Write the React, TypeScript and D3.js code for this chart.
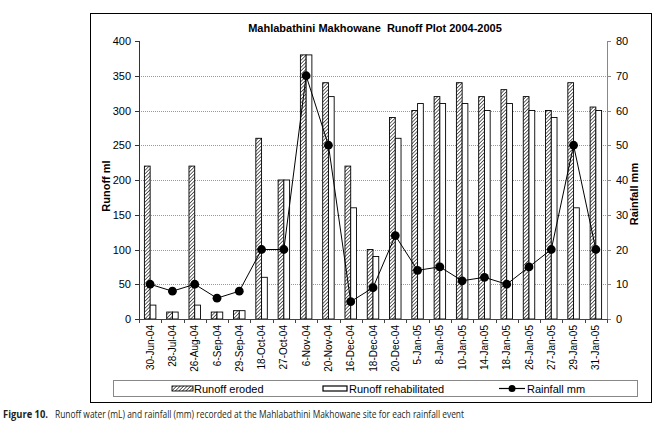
import { useRef, useEffect } from "react";
import * as d3 from "d3";

const dates = [
  "30-Jun-04", "28-Jul-04", "26-Aug-04", "6-Sep-04", "29-Sep-04", "18-Oct-04",
  "27-Oct-04", "6-Nov-04", "20-Nov-04", "16-Dec-04", "18-Dec-04", "20-Dec-04",
  "5-Jan-05", "8-Jan-05", "10-Jan-05", "14-Jan-05", "18-Jan-05", "26-Jan-05",
  "27-Jan-05", "29-Jan-05", "31-Jan-05",
];
const eroded = [220, 10, 220, 10, 12, 260, 200, 380, 340, 220, 100, 290, 300, 320, 340, 320, 330, 320, 300, 340, 305];
const rehabilitated = [20, 10, 20, 10, 12, 60, 200, 380, 320, 160, 90, 260, 310, 310, 310, 300, 310, 300, 290, 160, 300];
const rainfall = [10, 8, 10, 6, 8, 20, 20, 70, 50, 5, 9, 24, 14, 15, 11, 12, 10, 15, 20, 50, 20];
const leftTicks = [0, 50, 100, 150, 200, 250, 300, 350, 400];
const rightTicks = [0, 10, 20, 30, 40, 50, 60, 70, 80];

const font = "Arial, 'Liberation Sans', sans-serif";

export default function App() {
  const svgRef = useRef<SVGSVGElement>(null);

  useEffect(() => {
    const svg = d3.select(svgRef.current);
    svg.selectAll("*").remove();

    const left = 139, right = 607, top = 41, bottom = 319;

    const x = d3.scaleBand().domain(dates).range([left, right]);
    const x1 = d3
      .scaleBand()
      .domain(["eroded", "rehab"])
      .range([x.bandwidth() * 0.22, x.bandwidth() * 0.78]);
    const yL = d3.scaleLinear().domain([0, 400]).range([bottom, top]);
    const yR = d3.scaleLinear().domain([0, 80]).range([bottom, top]);

    const defs = svg.append("defs");
    const pat = defs
      .append("pattern")
      .attr("id", "hatch")
      .attr("patternUnits", "userSpaceOnUse")
      .attr("width", 2.5)
      .attr("height", 2.5)
      .attr("patternTransform", "rotate(45)");
    pat.append("rect").attr("width", 2.5).attr("height", 2.5).attr("fill", "#fff");
    pat
      .append("line")
      .attr("x1", 0).attr("y1", 0).attr("x2", 0).attr("y2", 2.5)
      .attr("stroke", "#333").attr("stroke-width", 1.5);

    // outer frame
    svg.append("rect")
      .attr("x", 90.5).attr("y", 13.5).attr("width", 561).attr("height", 389)
      .attr("fill", "#fff").attr("stroke", "#000");

    // title
    svg.append("text")
      .attr("x", 375).attr("y", 32).attr("text-anchor", "middle")
      .attr("font-family", font).attr("font-size", 11).attr("font-weight", "bold")
      .attr("xml:space", "preserve")
      .text("Mahlabathini Makhowane  Runoff Plot 2004-2005");

    // gridlines
    svg.append("g")
      .selectAll("line")
      .data(leftTicks.filter((t) => t > 0 && t < 400))
      .join("line")
      .attr("x1", left).attr("x2", right)
      .attr("y1", (d) => Math.round(yL(d)) + 0.5).attr("y2", (d) => Math.round(yL(d)) + 0.5)
      .attr("stroke", "#999").attr("stroke-dasharray", "1,1");

    // left axis
    const gl = svg.append("g").attr("font-family", font).attr("font-size", 11);
    gl.append("line")
      .attr("x1", left + 0.5).attr("x2", left + 0.5).attr("y1", top).attr("y2", bottom)
      .attr("stroke", "#333");
    gl.selectAll("line.t").data(leftTicks).join("line").attr("class", "t")
      .attr("x1", left - 4).attr("x2", left)
      .attr("y1", (d) => Math.round(yL(d)) + 0.5).attr("y2", (d) => Math.round(yL(d)) + 0.5)
      .attr("stroke", "#333");
    gl.selectAll("text").data(leftTicks).join("text")
      .attr("x", left - 8).attr("y", (d) => yL(d) + 4).attr("text-anchor", "end")
      .text((d) => d);

    // right axis
    const gr = svg.append("g").attr("font-family", font).attr("font-size", 11);
    gr.append("line")
      .attr("x1", right + 0.5).attr("x2", right + 0.5).attr("y1", top).attr("y2", bottom)
      .attr("stroke", "#888");
    gr.selectAll("line.t").data(rightTicks).join("line").attr("class", "t")
      .attr("x1", right).attr("x2", right + 4)
      .attr("y1", (d) => Math.round(yR(d)) + 0.5).attr("y2", (d) => Math.round(yR(d)) + 0.5)
      .attr("stroke", "#888");
    gr.selectAll("text").data(rightTicks).join("text")
      .attr("x", right + 9).attr("y", (d) => yR(d) + 4)
      .text((d) => d);

    // axis titles
    svg.append("text")
      .attr("transform", `translate(110,${(top + bottom) / 2 + 6}) rotate(-90)`)
      .attr("text-anchor", "middle").attr("font-family", font)
      .attr("font-size", 11).attr("font-weight", "bold").text("Runoff ml");
    svg.append("text")
      .attr("transform", `translate(638,${(top + bottom) / 2 + 14}) rotate(-90)`)
      .attr("text-anchor", "middle").attr("font-family", font)
      .attr("font-size", 11).attr("font-weight", "bold").text("Rainfall mm");

    // bars
    const bars = svg.append("g");
    bars.selectAll("rect.e").data(eroded).join("rect").attr("class", "e")
      .attr("x", (d, i) => x(dates[i])! + x1("eroded")! + 0.5)
      .attr("width", x1.bandwidth() - 0.5)
      .attr("y", (d) => yL(d)).attr("height", (d) => bottom - yL(d))
      .attr("fill", "url(#hatch)").attr("stroke", "#000").attr("stroke-width", 0.9);
    bars.selectAll("rect.r").data(rehabilitated).join("rect").attr("class", "r")
      .attr("x", (d, i) => x(dates[i])! + x1("rehab")!)
      .attr("width", x1.bandwidth() - 0.5)
      .attr("y", (d) => yL(d)).attr("height", (d) => bottom - yL(d))
      .attr("fill", "#fff").attr("stroke", "#000").attr("stroke-width", 0.9);

    // x axis
    const gx = svg.append("g").attr("font-family", font).attr("font-size", 10);
    gx.append("line")
      .attr("x1", left).attr("x2", right + 1)
      .attr("y1", bottom + 0.5).attr("y2", bottom + 0.5).attr("stroke", "#444");
    gx.selectAll("line.t").data([...dates.map((d) => x(d)!), right]).join("line").attr("class", "t")
      .attr("x1", (d) => Math.round(d) + 0.5).attr("x2", (d) => Math.round(d) + 0.5)
      .attr("y1", bottom).attr("y2", bottom + 4).attr("stroke", "#444");
    gx.selectAll("text").data(dates).join("text")
      .attr("transform", (d) => `translate(${x(d)! + x.bandwidth() / 2 + 3.5},${bottom + 6}) rotate(-90)`)
      .attr("text-anchor", "end").text((d) => d);

    // rainfall line
    const line = d3.line<number>()
      .x((d, i) => x(dates[i])! + x.bandwidth() / 2)
      .y((d) => yR(d));
    svg.append("path").datum(rainfall).attr("d", line)
      .attr("fill", "none").attr("stroke", "#000").attr("stroke-width", 1);
    svg.append("g").selectAll("circle").data(rainfall).join("circle")
      .attr("cx", (d, i) => x(dates[i])! + x.bandwidth() / 2)
      .attr("cy", (d) => yR(d)).attr("r", 4.4).attr("fill", "#000");

    // legend
    const lg = svg.append("g").attr("font-family", font).attr("font-size", 11);
    lg.append("rect")
      .attr("x", 113.5).attr("y", 380.5).attr("width", 524).attr("height", 16)
      .attr("fill", "#fff").attr("stroke", "#888");
    lg.append("rect").attr("x", 172).attr("y", 386).attr("width", 21).attr("height", 5)
      .attr("fill", "url(#hatch)").attr("stroke", "#000").attr("stroke-width", 0.9);
    lg.append("text").attr("x", 194).attr("y", 392.5).text("Runoff eroded");
    lg.append("rect").attr("x", 323).attr("y", 386).attr("width", 24).attr("height", 5)
      .attr("fill", "#fff").attr("stroke", "#000").attr("stroke-width", 1.2);
    lg.append("text").attr("x", 349).attr("y", 392.5).text("Runoff rehabilitated");
    lg.append("line").attr("x1", 499).attr("x2", 525).attr("y1", 388.5).attr("y2", 388.5)
      .attr("stroke", "#000").attr("stroke-width", 1.2);
    lg.append("circle").attr("cx", 512).attr("cy", 388.5).attr("r", 3.5).attr("fill", "#000");
    lg.append("text").attr("x", 527).attr("y", 392.5).text("Rainfall mm");

    // caption
    const capFont = "'Open Sans', 'Noto Sans', sans-serif";
    svg.append("text")
      .attr("x", 3).attr("y", 418)
      .attr("font-family", capFont).attr("font-size", 10.5).attr("font-weight", "bold")
      .attr("fill", "#231f20")
      .attr("textLength", 45).attr("lengthAdjust", "spacingAndGlyphs")
      .text("Figure 10.");
    svg.append("text")
      .attr("x", 55).attr("y", 418)
      .attr("font-family", capFont).attr("font-size", 11.5)
      .attr("fill", "#231f20")
      .attr("textLength", 409).attr("lengthAdjust", "spacingAndGlyphs")
      .text("Runoff water (mL) and rainfall (mm) recorded at the Mahlabathini Makhowane site for each rainfall event");
  }, []);

  return (
    <svg
      ref={svgRef}
      width={658}
      height={428}
      style={{ position: "absolute", left: 0, top: 0, background: "#fff" }}
    />
  );
}
